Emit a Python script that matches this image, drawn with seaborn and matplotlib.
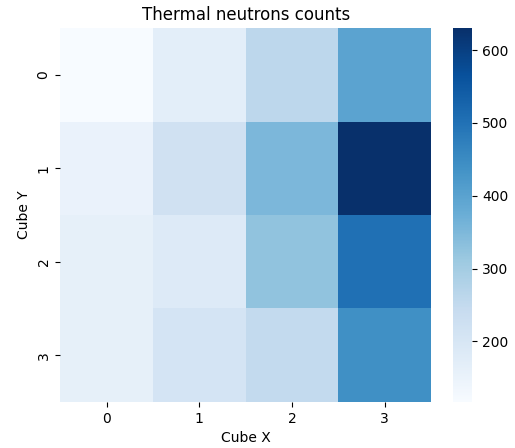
import numpy as np
import pandas as pd
import seaborn as sns
import matplotlib
matplotlib.use('Agg')
import matplotlib.pyplot as plt

# thermal neutron counts per cube cell (rows = Cube Y, cols = Cube X)
cube_x = [0, 1, 2, 3]
cube_y = [0, 1, 2, 3]
row0 = [117, 168, 261, 399]
row1 = [153, 220, 353, 630]
row2 = [163, 184, 327, 502]
row3 = [163, 209, 250, 440]

counts = pd.DataFrame([row0, row1, row2, row3], index=cube_y, columns=cube_x)

fig = plt.figure(figsize=(5.15, 4.48), dpi=100)
ax = fig.add_axes([0.117, 0.103, 0.72, 0.834])
cax = fig.add_axes([0.88, 0.103, 0.037, 0.834])
sns.heatmap(counts, cmap='Blues', ax=ax, cbar_ax=cax)
ax.set_title('Thermal neutrons counts')
ax.set_xlabel('Cube X')
ax.set_ylabel('Cube Y')

fig.savefig('out.png', dpi=100)
